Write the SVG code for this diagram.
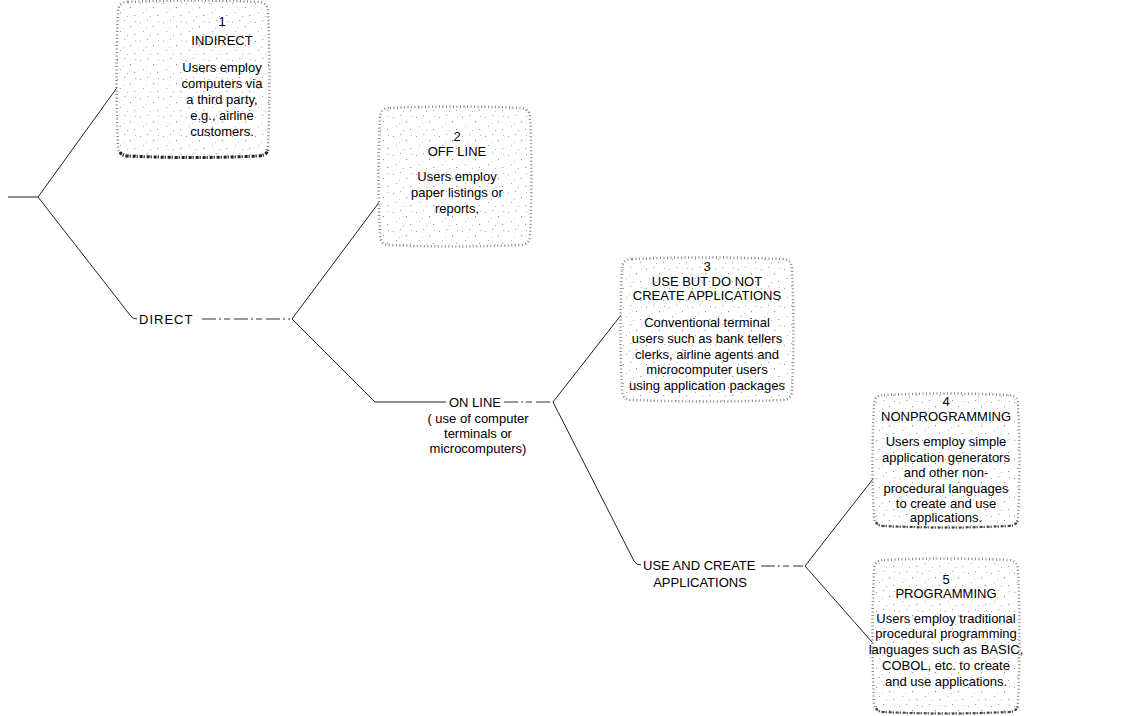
<svg xmlns="http://www.w3.org/2000/svg" width="1122" height="716" viewBox="0 0 1122 716">
<style>
text{font-family:"Liberation Sans",Arial,sans-serif;font-size:13px;fill:#000;text-anchor:middle}
.lbl{text-anchor:start}
.ln{stroke:#222;stroke-width:1;fill:none}
.dl{stroke:#333;stroke-width:1;fill:none;stroke-dasharray:14 3 2 3 6 4}
.box{fill:url(#stip);stroke:#888;stroke-width:2.5;stroke-dasharray:1 2.5}
.btm{fill:none;stroke:#444;stroke-width:2;stroke-dasharray:3 1 1 2}
</style>
<defs>
<pattern id="stip" width="23" height="19" patternUnits="userSpaceOnUse">
<rect width="23" height="19" fill="#fff"/>
<rect x="2" y="3" width="1" height="1" fill="#999"/>
<rect x="9" y="1" width="1.2" height="1" fill="#aaa"/>
<rect x="15" y="7" width="1" height="1.2" fill="#888"/>
<rect x="5" y="12" width="1" height="1" fill="#aaa"/>
<rect x="19" y="15" width="1.2" height="1" fill="#999"/>
<rect x="12" y="16" width="1" height="1" fill="#bbb"/>
<rect x="20" y="2" width="1" height="1" fill="#bbb"/>
<rect x="8" y="9" width="1" height="1" fill="#ccc"/>
</pattern>
</defs>
<g id="connectors">
<path class="ln" d="M8,197 H38 L124,78"/>
<path class="ln" d="M38,197 L130,315 Q132,319 137,319"/>
<path class="dl" d="M202,319 H290"/>
<path class="ln" d="M292,319 L383,197"/>
<path class="ln" d="M292,319 L375,402 H446"/>
<path class="dl" d="M504,402 H551"/>
<path class="ln" d="M553,402 L625,310"/>
<path class="ln" d="M553,402 L634,561 Q636,565 641,565"/>
<path class="dl" d="M761,566 H803"/>
<path class="ln" d="M805,566 L880,470"/>
<path class="ln" d="M805,566 L879,650"/>
</g>
<g id="labels">
<text class="lbl" x="139" y="324" style="letter-spacing:1px">DIRECT</text>
<text class="lbl" x="449" y="407">ON LINE</text>
<text x="478" y="423">( use of computer</text>
<text x="478" y="438">terminals or</text>
<text x="478" y="453">microcomputers)</text>
<text class="lbl" x="643" y="570">USE AND CREATE</text>
<text x="700" y="587">APPLICATIONS</text>
</g>
<g id="node1">
<path class="box" d="M128,2 Q193,-1 258,2 Q268,2 268,12 Q271,79 268,146 Q268,156 258,156 Q193,159 128,156 Q118,156 118,146 Q115,79 118,12 Q118,2 128,2 Z"/>
<path class="btm" d="M120,152 Q122,156 128,156 Q193,159 258,156 Q266,156 268,150" style="stroke-width:3;stroke:#222"/>
<text x="222" y="26">1</text>
<text x="222" y="45">INDIRECT</text>
<text x="222" y="72">Users employ</text>
<text x="222" y="88">computers via</text>
<text x="222" y="104">a third party,</text>
<text x="222" y="120">e.g., airline</text>
<text x="222" y="136">customers.</text>
</g>
<g id="node2">
<path class="box" d="M390,108 Q455,105 520,108 Q530,108 530,118 Q533,176 530,235 Q530,245 520,245 Q455,248 390,245 Q380,245 380,235 Q377,176 380,118 Q380,108 390,108 Z"/>
<text x="457" y="141">2</text>
<text x="457" y="156">OFF LINE</text>
<text x="457" y="181">Users employ</text>
<text x="457" y="197">paper listings or</text>
<text x="457" y="213">reports,</text>
</g>
<g id="node3">
<path class="box" d="M632,259 Q707,256 782,259 Q792,259 792,269 Q795,330 792,390 Q792,400 782,400 Q707,403 632,400 Q622,400 622,390 Q619,330 622,269 Q622,259 632,259 Z"/>
<text x="707" y="271">3</text>
<text x="707" y="286">USE BUT DO NOT</text>
<text x="707" y="300">CREATE APPLICATIONS</text>
<text x="707" y="327">Conventional terminal</text>
<text x="707" y="343">users such as bank tellers</text>
<text x="707" y="359">clerks, airline agents and</text>
<text x="707" y="374">microcomputer users</text>
<text x="707" y="390">using application packages</text>
</g>
<g id="node4">
<path class="box" d="M884,395 Q946,392 1008,395 Q1018,395 1018,405 Q1021,461 1018,516 Q1018,526 1008,526 Q946,529 884,526 Q874,526 874,516 Q871,461 874,405 Q874,395 884,395 Z"/>
<path class="btm" d="M876,522 Q878,526 884,526 Q946,529 1008,526 Q1016,526 1018,520"/>
<text x="946" y="406">4</text>
<text x="946" y="421">NONPROGRAMMING</text>
<text x="946" y="446">Users employ simple</text>
<text x="946" y="462">application generators</text>
<text x="946" y="477">and other non-</text>
<text x="946" y="493">procedural languages</text>
<text x="946" y="508">to create and use</text>
<text x="946" y="522">applications.</text>
</g>
<g id="node5">
<path class="box" d="M884,560 Q946,557 1008,560 Q1018,560 1018,570 Q1021,636 1018,702 Q1018,712 1008,712 Q946,715 884,712 Q874,712 874,702 Q871,636 874,570 Q874,560 884,560 Z"/>
<path class="btm" d="M876,708 Q878,712 884,712 Q946,715 1008,712 Q1016,712 1018,706"/>
<text x="946" y="584">5</text>
<text x="946" y="598">PROGRAMMING</text>
<text x="946" y="623">Users employ traditional</text>
<text x="946" y="638">procedural programming</text>
<text x="946" y="654">languages such as BASIC,</text>
<text x="946" y="670">COBOL, etc. to create</text>
<text x="946" y="686">and use applications.</text>
</g>
</svg>
